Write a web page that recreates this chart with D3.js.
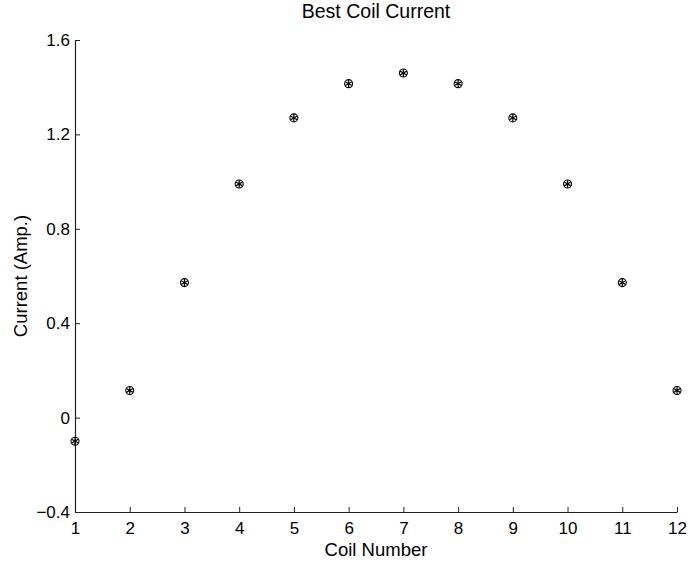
<!DOCTYPE html>
<html>
<head>
<meta charset="utf-8">
<script src="https://cdn.jsdelivr.net/npm/d3@7"></script>
<style>
  body { margin: 0; background: #fff; }
  text { font-family: "Liberation Sans", Arial, sans-serif; fill: #000; }
</style>
</head>
<body>
<div id="chart"></div>
<script>
// Data
const coils = [1, 2, 3, 4, 5, 6, 7, 8, 9, 10, 11, 12];
const currents = [-0.1, 0.115, 0.572, 0.99, 1.27, 1.415, 1.46, 1.415, 1.27, 0.99, 0.572, 0.115];
const yTicks = [-0.4, 0, 0.4, 0.8, 1.2, 1.6];

const width = 700, height = 562;
const margin = { top: 40, right: 23, bottom: 50, left: 75 };

const svg = d3.select('#chart').append('svg')
  .attr('width', width)
  .attr('height', height);

const x = d3.scaleLinear()
  .domain([1, 12])
  .range([margin.left, width - margin.right]);

const y = d3.scaleLinear()
  .domain([-0.4, 1.6])
  .range([height - margin.bottom, margin.top]);

// x axis, ticks pointing inward
const xAxis = svg.append('g')
  .attr('transform', `translate(0,${height - margin.bottom})`)
  .call(d3.axisBottom(x).tickValues(coils).tickSize(-5).tickSizeOuter(0).tickPadding(8));

// y axis, ticks pointing inward
const yAxis = svg.append('g')
  .attr('transform', `translate(${margin.left},0)`)
  .call(d3.axisLeft(y).tickValues(yTicks).tickSize(-5).tickSizeOuter(0).tickPadding(5)
    .tickFormat(d => d === 0 ? '0' : d3.format('.1f')(d).replace('-', '\u2212')));

[xAxis, yAxis].forEach(g => {
  g.select('.domain').attr('stroke', '#222').attr('stroke-width', 1.2);
  g.selectAll('.tick line').attr('stroke', '#222');
  g.selectAll('.tick text').attr('font-size', 17).attr('fill', '#000');
});
xAxis.selectAll('.tick text').attr('dy', '0.85em');

// markers: circle with asterisk
const pts = svg.append('g').selectAll('g')
  .data(coils.map((c, i) => ({ c, v: currents[i] })))
  .join('g')
  .attr('transform', d => `translate(${x(d.c)},${y(d.v)})`);

pts.append('circle')
  .attr('r', 4)
  .attr('fill', 'none')
  .attr('stroke', '#000')
  .attr('stroke-width', 1.1);

pts.append('path')
  .attr('d', d3.symbol(d3.symbolAsterisk, 40))
  .attr('fill', 'none')
  .attr('stroke', '#000')
  .attr('stroke-width', 1.2);

// title and axis labels
svg.append('text')
  .attr('x', (margin.left + width - margin.right) / 2)
  .attr('y', 18)
  .attr('text-anchor', 'middle')
  .attr('font-size', 19.5)
  .text('Best Coil Current');

svg.append('text')
  .attr('x', (margin.left + width - margin.right) / 2)
  .attr('y', 556)
  .attr('text-anchor', 'middle')
  .attr('font-size', 18.5)
  .text('Coil Number');

svg.append('text')
  .attr('transform', `translate(27,${(margin.top + height - margin.bottom) / 2}) rotate(-90)`)
  .attr('text-anchor', 'middle')
  .attr('font-size', 18.5)
  .text('Current (Amp.)');
</script>
</body>
</html>
